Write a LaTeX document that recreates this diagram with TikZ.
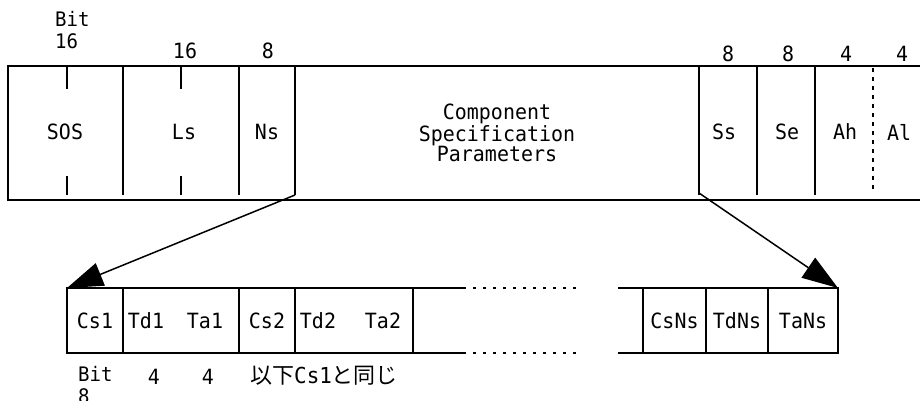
\documentclass[tikz,border=0pt]{standalone}
\usepackage{fontspec}
\setmainfont{DejaVu Sans Mono}[FakeStretch=0.95]
\newfontfamily\jpfont{Noto Sans CJK JP}
\usetikzlibrary{positioning, arrows.meta, calc}

\begin{document}
\begin{tikzpicture}[x=1pt, y=-1pt,
    wall/.style={draw=black, line width=1.5pt},
    lbl/.style={font=\fontsize{21}{22}\selectfont, inner sep=0pt},
    bitlbl/.style={font=\fontsize{20}{22}\selectfont, inner sep=0pt, align=left},
    cell/.style={draw=black, line width=1.5pt, minimum height=65pt, inner sep=0pt,
                 outer sep=0pt, font=\fontsize{21}{22}\selectfont},
    gapline/.style={draw=black, line width=1.5pt, dash pattern=on 3pt off 7pt},
    ptr/.style={draw=black, line width=1.5pt, -{Triangle[length=36pt, width=24pt]}}]
  \useasboundingbox[fill=white] (0,0) rectangle (920,401);

  % upper segment
  \draw[wall] (920,66) -- (8,66) -- (8,200) -- (920,200);
  \foreach \x in {123,239,295,699,757,815}
    \draw[wall] (\x,66) -- (\x,195);
  \draw[wall, dash pattern=on 4pt off 5pt] (873,68) -- (873,193);
  \foreach \x in {67,181} {
    \draw[wall] (\x,66) -- (\x,89);
    \draw[wall] (\x,176) -- (\x,195);
  }
  \coordinate (nsfoot) at (295,195);
  \coordinate (ssfoot) at (699,193);

  \node[bitlbl, anchor=north west] (bittop) at (55,11) {Bit\\16};
  \node[lbl] (nls)  at (185,51) {16};
  \node[lbl] (nns)  at (268,51) {8};
  \node[lbl] (nss)  at (728,54) {8};
  \node[lbl] (nse)  at (788,54) {8};
  \node[lbl] (nah)  at (846,54) {4};
  \node[lbl] (nal)  at (902,54) {4};

  \node[lbl] (sos) at (65,132) {SOS};
  \node[lbl] (ls)  at (184,132) {Ls};
  \node[lbl] (ns)  at (267,132) {Ns};
  \node[lbl, align=center, font=\fontsize{21}{20}\selectfont] (csp) at (497,133)
    {Component\\Specification\\Parameters};
  \node[lbl] (ss) at (724,132) {Ss};
  \node[lbl] (se) at (787,132) {Se};
  \node[lbl] (ah) at (845,132) {Ah};
  \node[lbl] (al) at (899,132) {Al};

  % lower segment
  \node[cell, minimum width=56pt]  (cs1)   at (95,320.5)  {Cs1};
  \node[cell, minimum width=116pt] (tdta1) at (181,320.5) {};
  \node[cell, minimum width=56pt]  (cs2)   at (267,320.5) {Cs2};
  \node[cell, minimum width=118pt] (tdta2) at (354,320.5) {};
  \node[cell, minimum width=63pt]  (csns)  at (674.5,320.5) {CsNs};
  \node[cell, minimum width=62pt]  (tdns)  at (737,320.5) {TdNs};
  \node[cell, minimum width=70pt]  (tans)  at (803,320.5) {TaNs};

  \node[lbl] (td1) at (146,320.5) {Td1};
  \node[lbl] (ta1) at (205,320.5) {Ta1};
  \node[lbl] (td2) at (318,320.5) {Td2};
  \node[lbl] (ta2) at (383,320.5) {Ta2};

  \coordinate (topend) at (466,288);
  \coordinate (botend) at (466,353);
  \coordinate (topgap) at (580,288);
  \coordinate (botgap) at (580,353);
  \coordinate (topres) at (618,288);
  \coordinate (botres) at (618,353);
  \draw[wall] (tdta2.north east) -- (topend);
  \draw[wall] (tdta2.south east) -- (botend);
  \draw[gapline] ($(topend)+(7,0)$) -- (topgap);
  \draw[gapline] ($(botend)+(7,0)$) -- (botgap);
  \draw[wall] (topres) -- (csns.north west);
  \draw[wall] (botres) -- (csns.south west);

  \node[bitlbl, anchor=north west] (bitbot) at (78,366) {Bit\\8};
  \node[lbl] (ntd) at (154,377) {4};
  \node[lbl] (nta) at (208,377) {4};
  \node[lbl, anchor=west, font=\fontsize{22}{24}\selectfont] (same) at (250,376)
    {{\jpfont 以下}Cs1{\jpfont と同じ}};

  % pointers
  \draw[ptr] (nsfoot) -- (cs1.north west);
  \draw[ptr] (ssfoot) -- (tans.north east);
\end{tikzpicture}
\end{document}
